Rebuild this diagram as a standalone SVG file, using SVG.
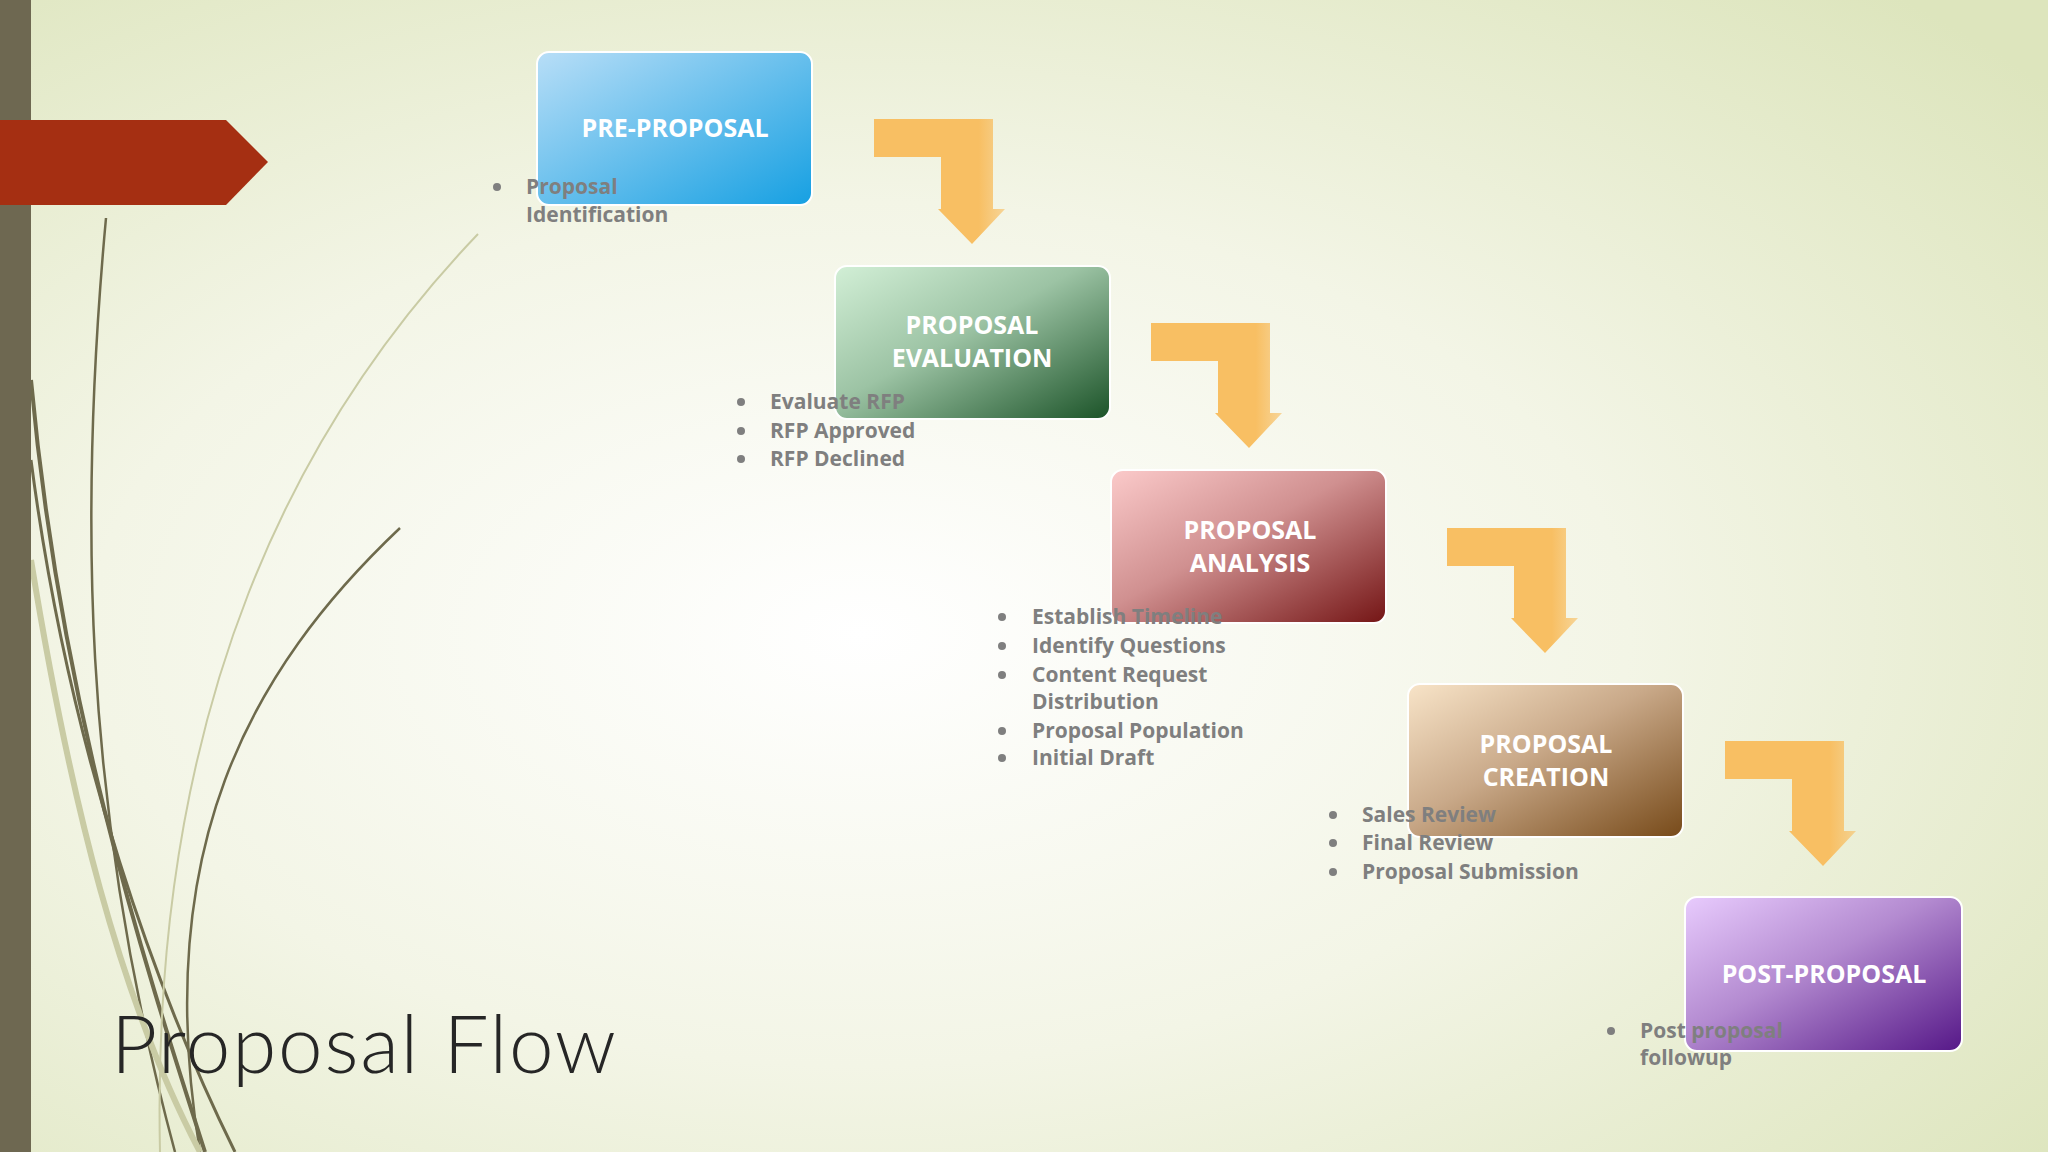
<svg xmlns="http://www.w3.org/2000/svg" width="2048" height="1152" viewBox="0 0 2048 1152">
<defs>
<radialGradient id="bg" cx="0.42" cy="0.55" r="0.75">
<stop offset="0" stop-color="#ffffff"/><stop offset="0.5" stop-color="#f3f5e6"/><stop offset="1" stop-color="#dde5bd"/>
</radialGradient>
<linearGradient id="gb" x1="0" y1="0" x2="1" y2="1"><stop offset="0" stop-color="#b8def7"/><stop offset="1" stop-color="#16a0e2"/></linearGradient>
<linearGradient id="gg" x1="0" y1="0" x2="1" y2="1"><stop offset="0" stop-color="#d2efd6"/><stop offset="0.45" stop-color="#9cc3a4"/><stop offset="1" stop-color="#1b5328"/></linearGradient>
<linearGradient id="gp" x1="0" y1="0" x2="1" y2="1"><stop offset="0" stop-color="#fbcaca"/><stop offset="0.45" stop-color="#d09090"/><stop offset="1" stop-color="#741515"/></linearGradient>
<linearGradient id="gt" x1="0" y1="0" x2="1" y2="1"><stop offset="0" stop-color="#f8e4c8"/><stop offset="0.45" stop-color="#c9a989"/><stop offset="1" stop-color="#774a19"/></linearGradient>
<linearGradient id="gv" x1="0" y1="0" x2="1" y2="1"><stop offset="0" stop-color="#e8cbfd"/><stop offset="0.45" stop-color="#b38ad0"/><stop offset="1" stop-color="#561888"/></linearGradient>
<linearGradient id="ga" x1="0" y1="0" x2="1" y2="0"><stop offset="0.8" stop-color="#f8bf63"/><stop offset="1" stop-color="#f8bf63" stop-opacity="0.6"/></linearGradient>
<path id="arr" d="M0,0 H119 V90 H131 L98,125 L64,90 H67 V38 H0 Z"/>
</defs>
<style>
.box{stroke:#ffffff;stroke-width:2}
.t{font-family:"Open Sans","Noto Sans",sans-serif;font-weight:700;font-size:25px;fill:#ffffff;text-anchor:middle}
.b{font-family:"Open Sans","Noto Sans",sans-serif;font-weight:700;font-size:21px;fill:#7f7f7f}
.d{fill:#7f7f7f}
</style>
<rect width="2048" height="1152" fill="url(#bg)"/>
<g id="decor" fill="none" stroke="#6e6a4c">
<path d="M31,380 C60,700 140,950 205,1152" stroke-width="4"/>
<path d="M31,460 C70,760 160,1000 235,1152" stroke-width="3"/>
<path d="M106,218 C80,500 80,800 175,1152" stroke-width="2.5"/>
<path d="M400,528 C250,670 150,850 200,1152" stroke-width="2.5"/>
<path d="M478,234 C300,420 150,700 160,1152" stroke="#c9cba4" stroke-width="2"/>
<path d="M31,560 C70,800 120,1000 200,1152" stroke="#c9cba4" stroke-width="6"/>
</g>
<rect x="0" y="0" width="31" height="1152" fill="#6e6851"/>
<path d="M0,120 H226 L268,162 L226,205 H0 Z" fill="#a52f12"/>
<g id="connectors" fill="url(#ga)">
<use href="#arr" x="874" y="119"/>
<use href="#arr" x="1151" y="323"/>
<use href="#arr" x="1447" y="528"/>
<use href="#arr" x="1725" y="741"/>
</g>
<g id="n1"><rect class="box" x="537" y="52" width="275" height="153" rx="12" fill="url(#gb)"/>
<text class="t" x="675" y="137">PRE-PROPOSAL</text></g>
<g id="n2"><rect class="box" x="835" y="266" width="275" height="153" rx="12" fill="url(#gg)"/>
<text class="t" x="972" y="334">PROPOSAL</text><text class="t" x="972" y="367">EVALUATION</text></g>
<g id="n3"><rect class="box" x="1111" y="470" width="275" height="153" rx="12" fill="url(#gp)"/>
<text class="t" x="1250" y="539">PROPOSAL</text><text class="t" x="1250" y="572">ANALYSIS</text></g>
<g id="n4"><rect class="box" x="1408" y="684" width="275" height="153" rx="12" fill="url(#gt)"/>
<text class="t" x="1546" y="753">PROPOSAL</text><text class="t" x="1546" y="786">CREATION</text></g>
<g id="n5"><rect class="box" x="1685" y="897" width="277" height="154" rx="12" fill="url(#gv)"/>
<text class="t" x="1824" y="983">POST-PROPOSAL</text></g>
<g id="bullets1"><circle class="d" cx="497" cy="187" r="4"/>
<text class="b" x="526" y="194">Proposal</text><text class="b" x="526" y="222">Identification</text></g>
<g id="bullets2">
<circle class="d" cx="741" cy="402" r="4"/><circle class="d" cx="741" cy="431" r="4"/><circle class="d" cx="741" cy="459" r="4"/>
<text class="b" x="770" y="409">Evaluate RFP</text><text class="b" x="770" y="438">RFP Approved</text><text class="b" x="770" y="466">RFP Declined</text></g>
<g id="bullets3">
<circle class="d" cx="1002" cy="617" r="4"/><circle class="d" cx="1002" cy="646" r="4"/><circle class="d" cx="1002" cy="675" r="4"/><circle class="d" cx="1002" cy="731" r="4"/><circle class="d" cx="1002" cy="758" r="4"/>
<text class="b" x="1032" y="624">Establish Timeline</text><text class="b" x="1032" y="653">Identify Questions</text><text class="b" x="1032" y="682">Content Request</text><text class="b" x="1032" y="709">Distribution</text><text class="b" x="1032" y="738">Proposal Population</text><text class="b" x="1032" y="765">Initial Draft</text></g>
<g id="bullets4">
<circle class="d" cx="1333" cy="815" r="4"/><circle class="d" cx="1333" cy="843" r="4"/><circle class="d" cx="1333" cy="872" r="4"/>
<text class="b" x="1362" y="822">Sales Review</text><text class="b" x="1362" y="850">Final Review</text><text class="b" x="1362" y="879">Proposal Submission</text></g>
<g id="bullets5"><circle class="d" cx="1611" cy="1031" r="4"/>
<text class="b" x="1640" y="1038">Post proposal</text><text class="b" x="1640" y="1065">followup</text></g>
<text x="111" y="1073" font-family="Lato,'Noto Sans',sans-serif" font-weight="300" font-size="80" fill="#262626" textLength="505" lengthAdjust="spacing">Proposal Flow</text>
</svg>
